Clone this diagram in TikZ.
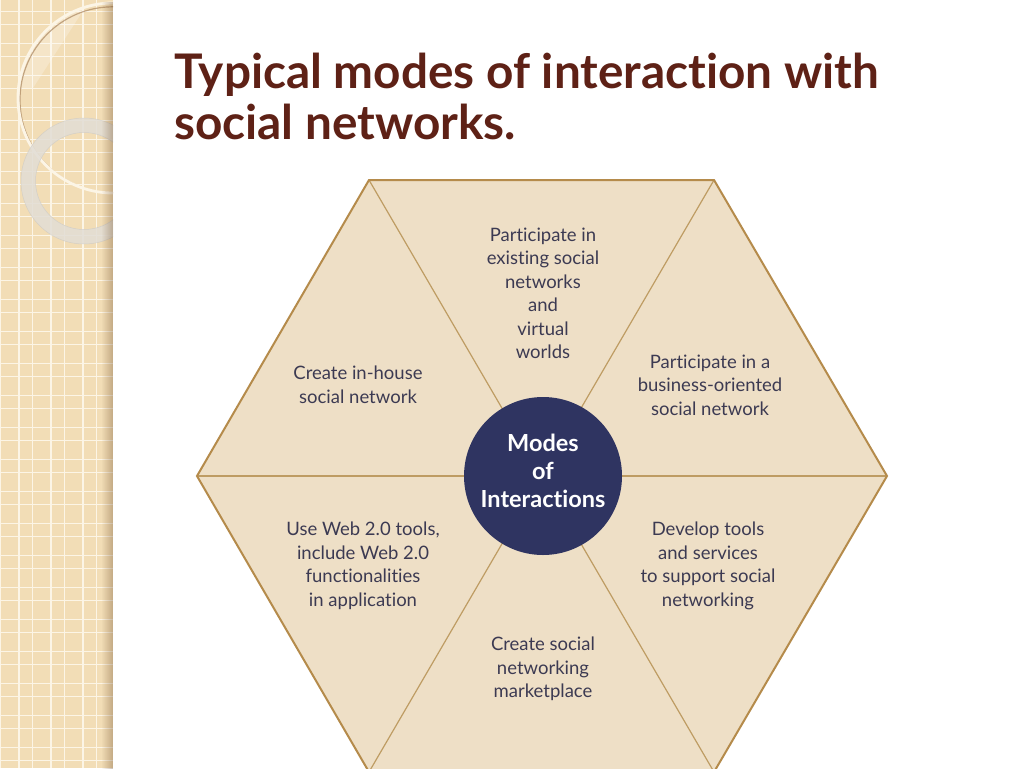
\documentclass[tikz,border=0pt]{standalone}
\usepackage{fontspec}
\setmainfont{Lato}[Ligatures={NoCommon,NoRare,NoContextual}]
\usetikzlibrary{fadings}
\definecolor{stripc}{HTML}{F2DDB6}
\definecolor{gridc}{HTML}{FCF5E6}
\definecolor{hexfill}{HTML}{EEDFC6}
\definecolor{hexline}{HTML}{B58B4B}
\definecolor{divline}{HTML}{BE9C63}
\definecolor{navy}{HTML}{2F3461}
\definecolor{bodytext}{HTML}{3C3A52}
\definecolor{titlec}{HTML}{5E2116}
\definecolor{ringc}{HTML}{E2DDD5}
\tikzset{
  segtext/.style={align=center, text=bodytext, font=\fontsize{18.5}{23.5}\selectfont, inner sep=0pt},
  hubtext/.style={align=center, text=white, font=\bfseries\fontsize{23.5}{28}\selectfont, inner sep=0pt},
  hub/.style={circle, fill=navy, minimum size=158pt, inner sep=0pt},
  gridline/.style={gridc, line width=1.4pt},
}
\begin{document}
\begin{tikzpicture}[x=1pt,y=-1pt]
\useasboundingbox (0,0) rectangle (1024,768);
\clip (0,0) rectangle (1024,768);
\fill[white] (0,0) rectangle (1024,768);
% left decorative strip
\begin{scope}
  \clip (0,0) rectangle (113,768);
  \fill[stripc] (0,0) rectangle (113,768);
  \foreach \k in {0,...,3} {
    \draw[gridline] (0.3+32*\k,0) -- (0.3+32*\k,768);
    \draw[gridline] (19+32*\k,0) -- (19+32*\k,768);
  }
  \foreach \k in {0,...,24} {
    \draw[gridline] (0,11.3+32*\k) -- (113,11.3+32*\k);
    \draw[gridline] (0,24.7+32*\k) -- (113,24.7+32*\k);
  }
  % lighter wedge inside big circle
  \begin{scope}
    \clip (113,98) circle (95);
    \fill[white, opacity=0.25] (0,0) -- (90,0) -- (33,88) -- (0,88) -- cycle;
  \end{scope}
  % big circle outline
  \draw[brown!60!gray, line width=1.2pt, opacity=0.65] (113,99.8) circle (93);
  \draw[gridc, line width=2.8pt] (113,98) circle (95);
  % translucent ring
  \draw[ringc, line width=14.5pt, opacity=0.85] (84,181) circle (55.7);
  \draw[gray!45, line width=0.5pt, opacity=0.6] (84,181) circle (63);
  \draw[gray!45, line width=0.5pt, opacity=0.6] (84,181) circle (48.5);
  % shadow at right edge
  \fill[black!45!brown, opacity=0.35, path fading=west] (101,0) rectangle (113,768);
\end{scope}
% title
\node[anchor=north west, align=left, text=titlec, inner sep=0pt,
      font=\bfseries\fontsize{47.7}{51}\selectfont] (title) at (174,53)
  {Typical modes of interaction with\\social networks.};
% hexagon
\coordinate (L) at (197,476);
\coordinate (TL) at (369,180);
\coordinate (TR) at (714,180);
\coordinate (R) at (887,476);
\coordinate (BR) at (714,772);
\coordinate (BL) at (369,772);
\fill[hexfill] (L) -- (TL) -- (TR) -- (R) -- (BR) -- (BL) -- cycle;
\draw[divline, line width=1.2pt] (L) -- (R);
\draw[divline, line width=1.2pt] (TL) -- (BR);
\draw[divline, line width=1.2pt] (TR) -- (BL);
\draw[hexline, line width=2pt, line join=miter] (L) -- (TL) -- (TR) -- (R) -- (BR) -- (BL) -- cycle;
% hub
\node[hub] (hub) at (543,476) {};
\node[hubtext] (hubt) at (543,471) {Modes\\of\\Interactions};
% segment texts
\node[segtext] (top) at (543,293.5) {Participate in\\existing social\\networks\\and\\virtual\\worlds};
\node[segtext] (ul) at (358,385) {Create in-house\\social network};
\node[segtext] (ur) at (710,385) {Participate in a\\business-oriented\\social network};
\node[segtext] (ll) at (363,566) {Use Web 2.0 tools,\\include Web 2.0\\functionalities\\in application};
\node[segtext] (lr) at (708,566) {Develop tools\\and services\\to support social\\networking};
\node[segtext] (bot) at (543,669) {Create social\\networking\\marketplace};
\end{tikzpicture}
\end{document}
